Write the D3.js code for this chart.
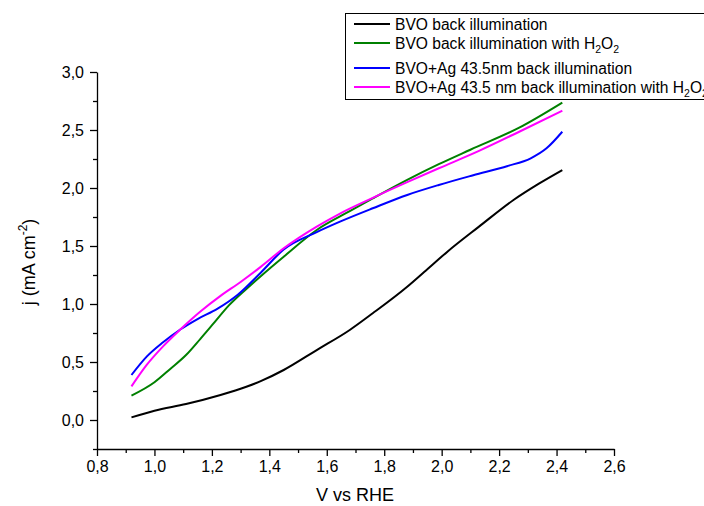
<!DOCTYPE html>
<html>
<head>
<meta charset="utf-8">
<script src="https://cdn.jsdelivr.net/npm/d3@7"></script>
<style>
  html, body { margin: 0; padding: 0; background: #fff; }
  svg { display: block; font-family: "Liberation Sans", Arial, sans-serif; }
</style>
</head>
<body>
<svg id="chart" width="704" height="506"></svg>
<script>
// Photocurrent density vs potential (V vs RHE)
const xTicks = [0.8, 1.0, 1.2, 1.4, 1.6, 1.8, 2.0, 2.2, 2.4, 2.6];
const yTicks = [0.0, 0.5, 1.0, 1.5, 2.0, 2.5, 3.0];

const seriesNames = [
  "BVO back illumination",
  "BVO back illumination with H2O2",
  "BVO+Ag 43.5nm back illumination",
  "BVO+Ag 43.5 nm back illumination with H2O2"
];
const seriesColors = ["#000000", "#008000", "#0000ff", "#ff00ff"];

const bvoV = [0.92, 1.00, 1.11, 1.23, 1.32, 1.37, 1.45, 1.565, 1.68, 1.76, 1.88, 1.94, 2.02, 2.13, 2.25, 2.34, 2.42];
const bvoJ = [0.023, 0.08, 0.138, 0.216, 0.287, 0.335, 0.431, 0.603, 0.776, 0.92, 1.149, 1.278, 1.451, 1.667, 1.897, 2.04, 2.155];

const bvoH2O2V = [0.92, 1.00, 1.055, 1.11, 1.16, 1.205, 1.26, 1.32, 1.37, 1.45, 1.565, 1.68, 1.76, 1.88, 1.99, 2.10, 2.27, 2.42];
const bvoH2O2J = [0.21, 0.325, 0.44, 0.56, 0.70, 0.83, 0.99, 1.13, 1.24, 1.408, 1.638, 1.80, 1.91, 2.07, 2.205, 2.33, 2.52, 2.736];

const agV = [0.92, 0.973, 1.03, 1.09, 1.15, 1.22, 1.29, 1.37, 1.45, 1.565, 1.646, 1.76, 1.88, 1.99, 2.11, 2.23, 2.31, 2.365, 2.42];
const agJ = [0.388, 0.546, 0.67, 0.78, 0.87, 0.96, 1.08, 1.27, 1.47, 1.62, 1.71, 1.825, 1.94, 2.026, 2.11, 2.19, 2.256, 2.342, 2.485];

const agH2O2V = [0.92, 0.973, 1.03, 1.09, 1.16, 1.23, 1.30, 1.37, 1.45, 1.565, 1.646, 1.76, 1.88, 1.99, 2.13, 2.27, 2.42];
const agH2O2J = [0.29, 0.475, 0.635, 0.78, 0.935, 1.07, 1.19, 1.32, 1.48, 1.667, 1.78, 1.915, 2.05, 2.17, 2.32, 2.485, 2.667];

const seriesV = [bvoV, bvoH2O2V, agV, agH2O2V];
const seriesJ = [bvoJ, bvoH2O2J, agJ, agH2O2J];

const svg = d3.select("#chart");
const fmt = d => d.toFixed(1).replace(".", ",");
const FONT = "Liberation Sans, Arial, sans-serif";

const x = d3.scaleLinear().domain([0.8, 2.6]).range([97, 614]);
const y = d3.scaleLinear().domain([-0.25, 3.0]).range([449, 72]);

// Curves
const line = d3.line().x(d => x(d[0])).y(d => y(d[1])).curve(d3.curveMonotoneX);
seriesV.forEach((vs, i) => {
  svg.append("path")
    .datum(vs.map((v, k) => [v, seriesJ[i][k]]))
    .attr("fill", "none")
    .attr("stroke", seriesColors[i])
    .attr("stroke-width", 2)
    .attr("stroke-linejoin", "round")
    .attr("d", line);
});

// Bottom axis with minor ticks
const xMinor = d3.range(0, 9).map(i => 0.9 + i * 0.2);
svg.append("g").attr("transform", "translate(0,449)")
  .call(d3.axisBottom(x).tickValues(xMinor).tickSize(4).tickFormat(""))
  .call(g => g.select(".domain").remove());
const gx = svg.append("g").attr("transform", "translate(0,449)")
  .call(d3.axisBottom(x).tickValues(xTicks).tickSize(7).tickSizeOuter(0).tickPadding(5).tickFormat(fmt));
gx.selectAll("text").attr("font-size", 16).attr("font-family", FONT).attr("fill", "#000");

// Left axis with minor ticks
const yMinor = [-0.25, 0.25, 0.75, 1.25, 1.75, 2.25, 2.75];
svg.append("g").attr("transform", "translate(97,0)")
  .call(d3.axisLeft(y).tickValues(yMinor).tickSize(4).tickFormat(""))
  .call(g => g.select(".domain").remove());
const gy = svg.append("g").attr("transform", "translate(97,0)")
  .call(d3.axisLeft(y).tickValues(yTicks).tickSize(7).tickSizeOuter(0).tickPadding(6).tickFormat(fmt));
gy.selectAll("text").attr("font-size", 16).attr("font-family", FONT).attr("fill", "#000");
svg.selectAll(".domain, .tick line").attr("stroke", "#000").attr("stroke-width", 1.3);

// Axis titles
svg.append("text")
  .attr("x", 355).attr("y", 501)
  .attr("text-anchor", "middle").attr("font-size", 18)
  .text("V vs RHE");

const yt = svg.append("text")
  .attr("transform", "translate(35,262) rotate(-90)")
  .attr("text-anchor", "middle").attr("font-size", 18);
yt.append("tspan").text("j (mA cm");
yt.append("tspan").attr("dy", -8).attr("font-size", 12).text("-2");
yt.append("tspan").attr("dy", 8).text(")");

// Legend
const legend = svg.append("g");
legend.append("rect")
  .attr("x", 345.5).attr("y", 13.5).attr("width", 400).attr("height", 86)
  .attr("fill", "#fff").attr("stroke", "#000").attr("stroke-width", 1);
const rowsY = [24, 43, 68, 87];
seriesNames.forEach((name, i) => {
  legend.append("line")
    .attr("x1", 354).attr("x2", 390).attr("y1", rowsY[i]).attr("y2", rowsY[i])
    .attr("stroke", seriesColors[i]).attr("stroke-width", 2);
  const t = legend.append("text")
    .attr("x", 395).attr("y", rowsY[i] + 5.5).attr("font-size", 15.6);
  if (name.endsWith("H2O2")) {
    t.append("tspan").text(name.slice(0, -4) + "H");
    t.append("tspan").attr("dy", 4).attr("font-size", 10.5).text("2");
    t.append("tspan").attr("dy", -4).text("O");
    t.append("tspan").attr("dy", 4).attr("font-size", 10.5).text("2");
  } else {
    t.text(name);
  }
});
</script>
</body>
</html>
